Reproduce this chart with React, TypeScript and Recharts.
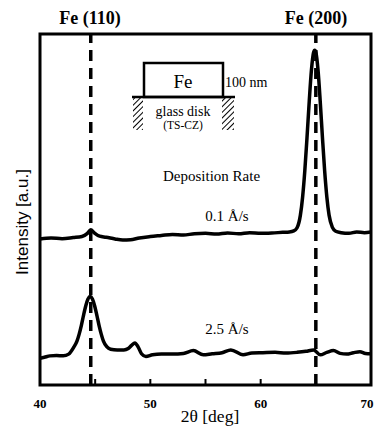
import { LineChart, Line, XAxis, YAxis, ReferenceLine, ReferenceArea } from 'recharts';

// 2θ positions (deg) and intensities (a.u.)
const upperTheta = [
  40.0, 41.0, 42.0, 43.0, 43.8, 44.3, 44.6, 44.9, 45.4, 46.0, 46.8, 47.5, 48.2, 49.0, 50.0,
  51.0, 52.0, 53.0, 54.0, 55.0, 56.0, 57.0, 58.0, 59.0, 60.0, 61.0, 62.0, 62.6, 63.0, 63.3,
  63.6, 63.8, 64.0, 64.2, 64.4, 64.6, 64.8, 64.9, 65.0, 65.2, 65.4, 65.6, 65.8, 66.0, 66.2,
  66.5, 66.8, 67.3, 68.0, 68.7, 69.4, 70.0,
];
const upperIntensity = [
  41.6, 41.9, 41.7, 42.0, 42.3, 43.2, 44.2, 43.4, 42.4, 42.1, 41.6, 41.3, 41.4, 41.9, 42.3,
  42.6, 42.9, 42.7, 43.1, 43.2, 43.0, 43.3, 43.1, 43.4, 43.2, 43.3, 43.5, 43.6, 43.9, 44.8,
  48.4, 53.5, 61.0, 70.5, 80.7, 89.7, 94.8, 95.4, 94.8, 89.7, 80.7, 70.5, 61.0, 53.5, 48.4,
  44.9, 43.8, 43.4, 43.2, 43.6, 43.4, 43.6,
];

const lowerTheta = [
  40.0, 40.4, 40.9, 41.5, 42.1, 42.6, 43.05, 43.35, 43.55, 43.75, 43.95, 44.15, 44.35, 44.55,
  44.75, 44.95, 45.15, 45.35, 45.55, 45.75, 46.05, 46.4, 47.0, 47.6, 48.0, 48.3, 48.6, 48.9,
  49.2, 49.6, 50.2, 51.0, 52.0, 53.0, 53.9, 54.8, 55.6, 56.5, 57.3, 58.4, 59.2, 60.2, 61.3,
  62.3, 63.3, 64.1, 64.8, 65.4, 66.0, 66.6, 67.2, 67.8, 68.4, 69.0, 69.5, 70.0,
];
const lowerIntensity = [
  7.6, 7.9, 8.3, 8.4, 8.3, 8.8, 10.7, 12.5, 14.5, 17.0, 19.9, 22.6, 24.5, 25.2,
  24.5, 22.6, 19.9, 17.0, 14.5, 12.5, 10.9, 10.2, 10.0, 10.0, 10.4, 11.3, 12.0, 10.8,
  8.9, 8.1, 8.6, 8.8, 8.8, 9.0, 9.8, 8.6, 8.9, 9.2, 10.0, 8.6, 9.1, 9.2, 9.3,
  9.1, 9.3, 9.6, 10.0, 8.6, 9.3, 9.8, 9.0, 8.8, 9.2, 9.5, 9.0, 8.9,
];

const bottomTicks = [40, 45, 50, 55, 60, 65, 70];
const topTicks = [45, 50, 55, 60, 65];
const peakLines = [44.6, 65.0];

const upperData = upperTheta.map((x, i) => ({ x, y: upperIntensity[i] }));
const lowerData = lowerTheta.map((x, i) => ({ x, y: lowerIntensity[i] }));

const serif = '"Liberation Serif", "Times New Roman", serif';
const sans = '"Liberation Sans", Arial, sans-serif';

// only the tens get a label; the last one is pulled in a little so it stays on the page
const BottomTick = (props: any) => {
  const { x, y, payload } = props;
  const v = payload.value;
  if (v % 10 !== 0) return null;
  const shift = v === 70 ? -4 : 0;
  return (
    <text x={x + shift} y={y} dy="0.71em" textAnchor="middle" fill="#000" fontFamily={serif} fontSize={13} fontWeight="bold">
      {v}
    </text>
  );
};

export default function App() {
  return (
    <div style={{ position: 'absolute', left: 0, top: 0, width: 374, height: 437, background: '#fff' }}>
      <LineChart width={374} height={437} margin={{ top: 4, right: 3, left: 40, bottom: 22 }}>
        <XAxis
          type="number"
          dataKey="x"
          domain={[40, 70]}
          ticks={bottomTicks}
          interval={0}
          allowDataOverflow
          height={30}
          axisLine={false}
          tickSize={-6}
          tickMargin={20}
          tickLine={{ stroke: '#000', strokeWidth: 2 }}
          tick={<BottomTick />}
        />
        <XAxis
          xAxisId="top"
          orientation="top"
          type="number"
          dataKey="x"
          domain={[40, 70]}
          ticks={topTicks}
          interval={0}
          height={30}
          axisLine={false}
          tickSize={-6}
          tickLine={{ stroke: '#000', strokeWidth: 2 }}
          tickFormatter={() => ''}
        />
        <YAxis hide type="number" domain={[0, 100]} />
        <ReferenceArea x1={40} x2={70} y1={0} y2={100} fill="none" stroke="#000" strokeWidth={3} />
        {peakLines.map((x) => (
          <ReferenceLine key={x} x={x} stroke="#000" strokeWidth={3.5} strokeDasharray="11 7" />
        ))}
        <Line
          data={upperData}
          dataKey="y"
          type="monotone"
          stroke="#000"
          strokeWidth={3.5}
          dot={false}
          isAnimationActive={false}
        />
        <Line
          data={lowerData}
          dataKey="y"
          type="monotone"
          stroke="#000"
          strokeWidth={3.5}
          dot={false}
          isAnimationActive={false}
        />
      </LineChart>

      {/* titles, axis names and the sample sketch */}
      <svg
        width={374}
        height={437}
        style={{ position: 'absolute', left: 0, top: 0, pointerEvents: 'none' }}
      >
        <defs>
          <pattern id="hatch" width="4" height="4" patternUnits="userSpaceOnUse" patternTransform="rotate(45)">
            <line x1="0" y1="0" x2="0" y2="4" stroke="#000" strokeWidth="2" />
          </pattern>
        </defs>
        <text x={90} y={24} textAnchor="middle" fontFamily={serif} fontSize={18} fontWeight="bold">
          Fe (110)
        </text>
        <text x={316} y={24} textAnchor="middle" fontFamily={serif} fontSize={18} fontWeight="bold">
          Fe (200)
        </text>
        <text
          x={22}
          y={222}
          transform="rotate(-90 22 222)"
          textAnchor="middle"
          dominantBaseline="central"
          fontFamily={sans}
          fontSize={17}
        >
          Intensity [a.u.]
        </text>
        <text x={210} y={422} textAnchor="middle" fontFamily={serif} fontSize={17.5}>
          2θ [deg]
        </text>

        <rect x={144} y={63} width={79} height={34} fill="#fff" stroke="#000" strokeWidth={2.5} />
        <text x={183} y={88} textAnchor="middle" fontFamily={serif} fontSize={19}>
          Fe
        </text>
        <text x={225} y={87} fontFamily={serif} fontSize={14}>
          100 nm
        </text>
        <line x1={132} y1={97} x2={235} y2={97} stroke="#000" strokeWidth={2.5} />
        <rect x={133} y={98} width={10} height={32} fill="url(#hatch)" />
        <rect x={222} y={98} width={12} height={32} fill="url(#hatch)" />
        <text x={183} y={116} textAnchor="middle" fontFamily={serif} fontSize={14}>
          glass disk
        </text>
        <text x={183} y={129} textAnchor="middle" fontFamily={serif} fontSize={11.5}>
          (TS-CZ)
        </text>

        <text x={163} y={181} fontFamily={serif} fontSize={15}>
          Deposition Rate
        </text>
        <text x={227} y={221} textAnchor="middle" fontFamily={serif} fontSize={15}>
          0.1 Å/s
        </text>
        <text x={227} y={334} textAnchor="middle" fontFamily={serif} fontSize={15}>
          2.5 Å/s
        </text>
      </svg>
    </div>
  );
}
